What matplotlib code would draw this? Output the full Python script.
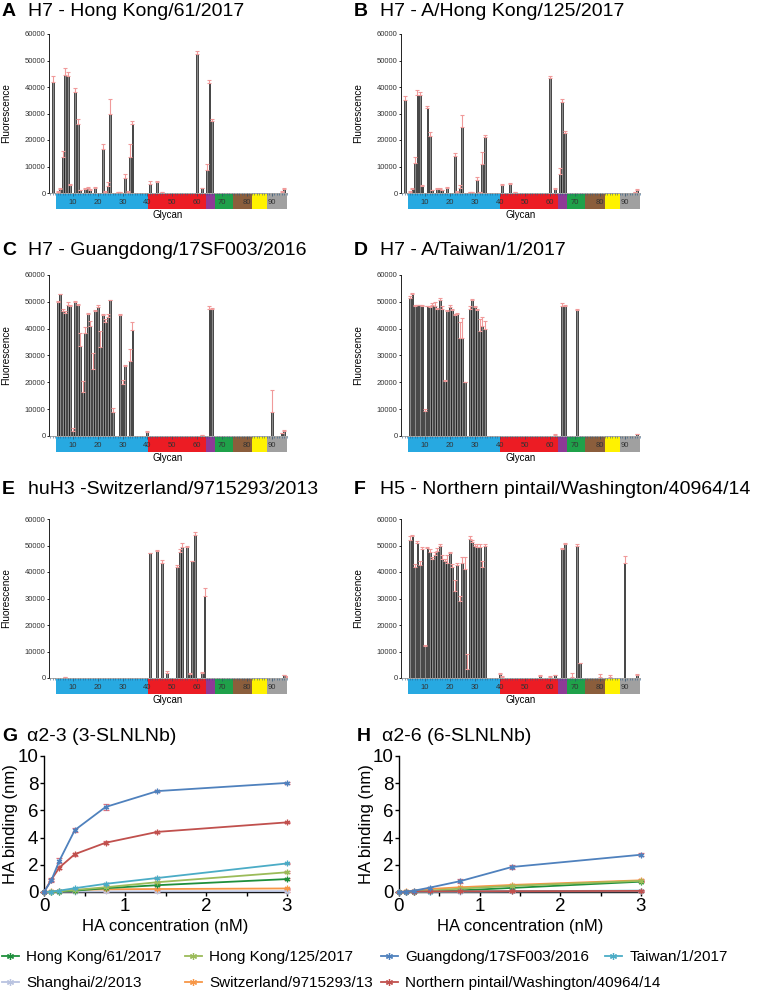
import numpy as np
import matplotlib.pyplot as plt
from matplotlib.patches import Rectangle
from matplotlib.lines import Line2D

plt.rcParams['font.family'] = ['Liberation Sans', 'DejaVu Sans']

W, H = 760, 991

# ---- glycan array data (glycan number, mean fluorescence, sd) ----
a_glycan = [2, 4, 5, 6, 7, 8, 9, 11, 12, 13, 15, 16, 17, 19, 22, 23, 24, 25, 28, 29,
            31, 32, 33, 34, 41, 44, 46, 60, 62, 64, 65, 66, 94, 95]
a_value = [42000, 500, 1500, 13500, 44500, 44000, 3000, 38000, 26000, 1000,
           1500, 1800, 1200, 2000, 16500, 500, 2500, 30000, 300, 300,
           5500, 500, 13500, 26000, 3500, 4000, 200, 52500, 1800, 8500,
           41500, 27000, 500, 1500]
a_sd = [2000, 200, 300, 2500, 2500, 1500, 500, 1500, 2000, 200,
        400, 300, 200, 300, 2000, 200, 1500, 5500, 100, 100,
        1500, 200, 5000, 1000, 1000, 500, 100, 1000, 200, 2500,
        1000, 1000, 200, 500]

b_glycan = a_glycan
b_value = [35000, 500, 1500, 11500, 37000, 37000, 2500, 32000, 21500, 1000,
           1500, 1500, 1000, 2000, 14000, 500, 2000, 25000, 300, 300,
           4800, 300, 11000, 21000, 3000, 3500, 200, 43500, 1500, 7000,
           34500, 22500, 300, 1300]
b_sd = [1500, 200, 300, 2000, 2000, 1000, 500, 1000, 1500, 200,
        300, 300, 200, 300, 1000, 200, 1200, 4500, 100, 100,
        1200, 100, 4500, 1000, 500, 300, 100, 800, 200, 2500,
        1000, 1000, 100, 300]

c_glycan = [4, 5, 6, 7, 8, 9, 10, 11, 12, 13, 14, 15, 16, 17, 18, 19, 20, 21, 22, 23,
            24, 25, 26, 29, 30, 31, 33, 34, 40, 62, 65, 66, 90, 94, 95]
c_value = [50000, 52800, 46500, 46000, 49000, 48500, 2000, 50000, 49000, 33500,
           16500, 38500, 45500, 41000, 25000, 46500, 48000, 33000, 45000, 42500,
           44500, 50500, 9000, 45000, 19500, 26000, 28000, 39500,
           1500, 300, 47500, 47500, 9000, 1000, 2000]
c_sd = [300, 300, 1000, 500, 800, 300, 1000, 300, 300, 5000,
        4000, 2000, 500, 2000, 6000, 500, 1000, 6000, 300, 1000,
        1000, 300, 1500, 300, 1500, 300, 4500, 3000,
        500, 100, 1000, 300, 8000, 300, 300]

d_glycan = [4, 5, 6, 7, 8, 9, 10, 11, 12, 13, 14, 15, 16, 17, 18, 19, 20, 21, 22, 23,
            24, 25, 26, 28, 29, 30, 31, 32, 33, 34, 62, 65, 66, 71, 95]
d_value = [51500, 53000, 48500, 48700, 48700, 48500, 9500, 48300, 48000, 49000,
           48500, 47500, 50500, 47500, 20500, 46500, 48000, 47000, 45000, 45500,
           36500, 36500, 20000, 47500, 50500, 48000, 47000, 39000, 41000, 40000,
           500, 48500, 48500, 47000, 600]
d_sd = [500, 300, 300, 300, 300, 300, 500, 300, 300, 500,
        1500, 300, 1000, 800, 500, 300, 1000, 300, 300, 300,
        6000, 7500, 300, 1000, 500, 500, 300, 4500, 3500, 3000,
        300, 1000, 300, 300, 200]

e_glycan = [7, 41, 44, 46, 48, 52, 53, 54, 56, 57, 58, 59, 62, 63, 95, 96]
e_value = [300, 47000, 48000, 43500, 2000, 42000, 47500, 49500, 49500, 1500,
           44000, 54000, 2000, 31000, 1000, 500]
e_sd = [100, 300, 300, 1000, 500, 500, 1000, 1500, 300, 200,
        300, 1000, 200, 3000, 300, 200]

f_glycan = [4, 5, 6, 7, 8, 9, 10, 11, 12, 13, 14, 15, 16, 17, 18, 19, 20, 21, 22, 23,
            24, 25, 26, 27, 28, 29, 30, 31, 32, 33, 34, 40, 41, 56, 60, 62, 65, 66, 69, 71,
            72, 80, 84, 90, 95]
f_value = [52000, 53500, 42000, 51000, 42500, 48500, 12000, 49000, 47500, 45000,
           46500, 48000, 50000, 45000, 44000, 43500, 47000, 42000, 33000, 42500,
           29000, 43500, 41000, 3500, 52500, 51500, 50000, 49500, 49500, 42000,
           50000, 1500, 500, 800, 500, 1000, 48500, 50500, 500, 50000,
           5500, 500, 500, 43500, 1300]
f_sd = [1500, 500, 1000, 800, 1500, 1000, 500, 500, 1000, 500,
        1000, 1000, 500, 1500, 1000, 3000, 500, 1000, 4000, 1000,
        2000, 2000, 4500, 5500, 1000, 500, 500, 1000, 1000, 2000,
        500, 300, 200, 200, 200, 300, 500, 300, 1500, 500,
        300, 1000, 500, 2500, 300]

# glycan class strip (start, end, colour)
strip_start = [3.2, 40.1, 63.4, 67.1, 74.3, 82.3, 88.3]
strip_end = [40.1, 63.4, 67.1, 74.3, 82.3, 88.3, 96.0]
strip_color = ['#27a9e1', '#ec1c24', '#8e3a96', '#1fa14a', '#8b5e3c', '#fff200', '#a0a0a0']

# ---- biolayer interferometry data ----
conc = [0, 0.09, 0.19, 0.38, 0.76, 1.4, 3.0]
strains = ['Hong Kong/61/2017', 'Hong Kong/125/2017', 'Guangdong/17SF003/2016', 'Taiwan/1/2017',
           'Shanghai/2/2013', 'Switzerland/9715293/13', 'Northern pintail/Washington/40964/14']
strain_colors = ['#1e8f3c', '#9bbb59', '#4f81bd', '#4bacc6', '#b9c3e0', '#f79646', '#c0504d']

g_hk61 = [0, 0.01, 0.03, 0.10, 0.28, 0.50, 0.95]
g_hk125 = [0, 0.01, 0.05, 0.15, 0.35, 0.72, 1.45]
g_gd = [0, 0.85, 2.30, 4.55, 6.25, 7.42, 8.02]
g_tw = [0, 0.03, 0.10, 0.28, 0.60, 1.03, 2.10]
g_sh = [0, 0.01, 0.02, 0.03, 0.04, 0.05, 0.06]
g_sw = [0, 0.04, 0.08, 0.15, 0.20, 0.22, 0.26]
g_np = [0, 0.90, 1.80, 2.78, 3.62, 4.42, 5.12]
g_gd_sd = [0, 0.10, 0.20, 0.12, 0.25, 0.10, 0.10]
g_np_sd = [0, 0.10, 0.08, 0.12, 0.10, 0.05, 0.05]

h_hk61 = [0, 0, 0.02, 0.05, 0.12, 0.30, 0.76]
h_hk125 = [0, 0.01, 0.03, 0.10, 0.25, 0.45, 0.82]
h_gd = [0, 0.03, 0.10, 0.32, 0.80, 1.84, 2.74]
h_tw = [0, 0, 0.01, 0.02, 0.04, 0.06, 0.10]
h_sh = [0, 0, 0.01, 0.02, 0.03, 0.04, 0.05]
h_sw = [0, 0.05, 0.10, 0.22, 0.35, 0.52, 0.86]
h_np = [0, 0.02, 0.03, 0.04, 0.05, 0.06, 0.08]
h_gd_sd = [0, 0.05, 0.05, 0.08, 0.15, 0.12, 0.12]
small_sd = [0, 0.03, 0.03, 0.04, 0.05, 0.05, 0.06]

fig = plt.figure(figsize=(W / 100, H / 100), dpi=100)


def px_axes(left, top, right, bottom):
    return fig.add_axes([left / W, 1 - bottom / H, (right - left) / W, (bottom - top) / H])


def bar_panel(left, top, right, bottom, glycan, value, sd):
    ax = px_axes(left, top, right, bottom)
    ax.bar(glycan, value, width=0.75, color='#8a8a8a', edgecolor='black', linewidth=0.45,
           yerr=[np.zeros(len(value)), sd],
           error_kw=dict(ecolor='#f09a9a', elinewidth=0.8, capsize=1.2, capthick=0.8))
    ax.set_xlim(0.4, 96.2)
    ax.set_ylim(0, 60000)
    ax.set_yticks(range(0, 60001, 10000))
    ax.set_xticks(range(10, 91, 10))
    ax.set_xticks(range(1, 97), minor=True)
    ax.tick_params(axis='y', labelsize=5.5, length=1.5, width=0.6, pad=1, labelcolor='#333333')
    ax.tick_params(axis='x', which='major', labelsize=5.5, length=1.8, width=0.5,
                   pad=2.5, colors='#2a4d6a', labelcolor='#333333')
    ax.tick_params(axis='x', which='minor', length=1.2, width=0.4, colors='#2a5d8a')
    for s in ['top', 'right']:
        ax.spines[s].set_visible(False)
    ax.spines['left'].set_linewidth(0.6)
    ax.spines['bottom'].set_linewidth(0.4)
    ax.spines['bottom'].set_color('#666666')
    h = bottom - top
    for x0, x1, c in zip(strip_start, strip_end, strip_color):
        ax.add_patch(Rectangle((x0, -16 / h), x1 - x0, 15 / h, transform=ax.get_xaxis_transform(),
                               facecolor=c, edgecolor='none', clip_on=False, zorder=0.5))
    fig.text((left + right) / 2 / W, 1 - (bottom + 22) / H, 'Glycan', fontsize=7,
             ha='center', va='center')
    fig.text((left - 43) / W, 1 - (top + bottom) / 2 / H, 'Fluorescence', fontsize=7.2,
             rotation=90, ha='center', va='center')
    return ax


col_left = [49, 401]
col_right = [287, 640]
row_top = [34, 275, 519]
row_bottom = [193, 436, 678]
title_base = [16, 255, 494]

panels = [
    ('A', 'H7 - Hong Kong/61/2017', a_glycan, a_value, a_sd),
    ('B', 'H7 - A/Hong Kong/125/2017', b_glycan, b_value, b_sd),
    ('C', 'H7 - Guangdong/17SF003/2016', c_glycan, c_value, c_sd),
    ('D', 'H7 - A/Taiwan/1/2017', d_glycan, d_value, d_sd),
    ('E', 'huH3 -Switzerland/9715293/2013', e_glycan, e_value, e_sd),
    ('F', 'H5 - Northern pintail/Washington/40964/14', f_glycan, f_value, f_sd),
]

for i, (letter, title, gl, val, sd) in enumerate(panels):
    r, c = divmod(i, 2)
    bar_panel(col_left[c], row_top[r], col_right[c], row_bottom[r], gl, val, sd)
    fig.text((2 + 352 * c) / W, 1 - title_base[r] / H, letter, fontsize=14,
             fontweight='bold', va='baseline')
    fig.text((28 + 352 * c) / W, 1 - title_base[r] / H, title, fontsize=14, va='baseline')


def line_panel(left, right, series, sds, letter, title):
    ax = px_axes(left, 756, right, 892)
    order = [4, 5, 0, 1, 3, 6, 2]
    for k in order:
        ax.errorbar(conc, series[k], yerr=sds[k], color=strain_colors[k],
                    marker=(6, 2, 0), ms=4, mew=0.9, lw=1.3,
                    ecolor='#e0707a', elinewidth=0.9, capsize=2, capthick=0.9,
                    clip_on=False, zorder=3)
    ax.set_xlim(0, 3)
    ax.set_ylim(0, 10)
    ax.set_yticks([0, 2, 4, 6, 8, 10])
    ax.set_xticks([0, 1, 2, 3])
    ax.set_xticks([0.5, 1.5, 2.5], minor=True)
    ax.tick_params(labelsize=13.5, length=3, width=1, pad=1)
    ax.tick_params(which='minor', length=3, width=1)
    for s in ['top', 'right']:
        ax.spines[s].set_visible(False)
    for s in ['left', 'bottom']:
        ax.spines[s].set_linewidth(1)
    fig.text((left - 33) / W, 1 - 824 / H, 'HA binding (nm)', fontsize=12,
             rotation=90, ha='center', va='center')
    fig.text((left + right) / 2 / W, 1 - 926 / H, 'HA concentration (nM)', fontsize=12,
             ha='center', va='center')
    fig.text((left - 42) / W, 1 - 741 / H, letter, fontsize=14, fontweight='bold', va='baseline')
    fig.text((left - 17) / W, 1 - 741 / H, title, fontsize=14, va='baseline')
    return ax


line_panel(44, 287, [g_hk61, g_hk125, g_gd, g_tw, g_sh, g_sw, g_np],
           [small_sd, small_sd, g_gd_sd, small_sd, small_sd, small_sd, g_np_sd],
           'G', '\u03b12-3 (3-SLNLNb)')
line_panel(399, 641, [h_hk61, h_hk125, h_gd, h_tw, h_sh, h_sw, h_np],
           [small_sd, small_sd, h_gd_sd, small_sd, small_sd, small_sd, small_sd],
           'H', '\u03b12-6 (6-SLNLNb)')

# legend entries laid out row by row
legend_x = [2, 185, 381, 605, 2, 185, 381]
legend_y = [957, 957, 957, 957, 983, 983, 983]
legend_order = [0, 1, 2, 3, 4, 5, 6]
for k, x, y in zip(legend_order, legend_x, legend_y):
    h = Line2D([], [], color=strain_colors[k], marker=(6, 2, 0), ms=5, mew=0.9, lw=1.3)
    fig.legend(handles=[h], labels=[strains[k]], loc='center left',
               bbox_to_anchor=(x / W, 1 - y / H), frameon=False, fontsize=11,
               handlelength=1.1, handletextpad=0.5, borderpad=0, borderaxespad=0)

fig.savefig('out.png', dpi=100)
